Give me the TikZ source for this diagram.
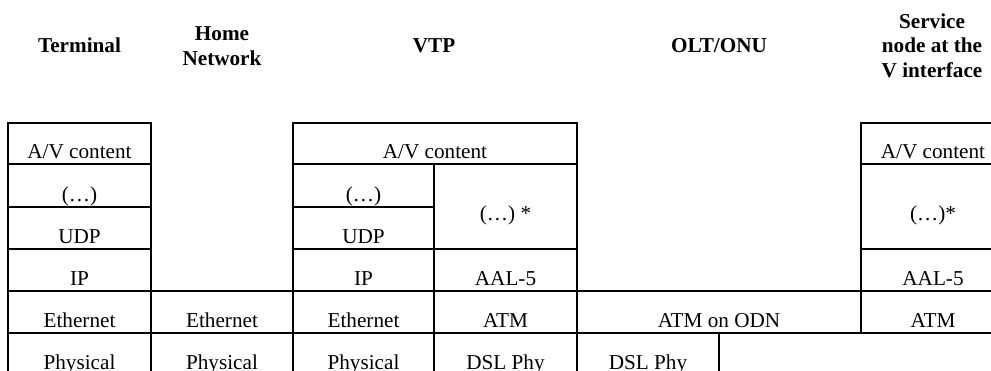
\documentclass[tikz,border=0pt]{standalone}
\usepackage{fontspec}
\setmainfont{Liberation Serif}[BoldFont={Liberation Serif Bold}]
\newcommand\protocell[7]{%
  \pgfmathsetmacro\pcw{#4-#2}%
  \pgfmathsetmacro\pch{#5-#3-#6}%
  \node[cell, minimum width=\pcw pt, text height=\pch pt, text depth=#6pt]
    (#1) at ({(#2+#4)/2},{(#3+#5)/2}) {#7};%
}
\tikzset{
  cell/.style={draw, line width=1pt, inner sep=0pt, outer sep=0pt,
    font=\fontsize{10.6}{12.25}\selectfont},
  hdr/.style={anchor=base, align=center, inner sep=0pt,
    font=\fontsize{10.6}{12.25}\selectfont\bfseries},
}
\begin{document}
\begin{tikzpicture}[x=1pt,y=-1pt]
\useasboundingbox (0,0) rectangle (495.5,185);
% headers (base anchor = baseline of the last line)
\node[hdr] (hterm) at (39.75,26) {Terminal};
\node[hdr] (hhome) at (111,32.5) {Home\\Network};
\node[hdr] (hvtp) at (217,26) {VTP};
\node[hdr] (holt) at (359.5,26) {OLT/ONU};
\node[hdr] (hsn) at (466,38.5) {Service\\node at the\\V interface};
% Terminal
\protocell{tA}{4}{61.5}{75.5}{82}{3}{A/V content}
\protocell{tD}{4}{82}{75.5}{103.5}{3}{(…)}
\protocell{tU}{4}{103.5}{75.5}{124.5}{3}{UDP}
\protocell{tI}{4}{124.5}{75.5}{145.5}{3}{IP}
\protocell{tE}{4}{145.5}{75.5}{166.5}{3}{Ethernet}
\protocell{tP}{4}{166.5}{75.5}{187.5}{3}{Physical}
% Home network
\protocell{hE}{75.5}{145.5}{146.5}{166.5}{3}{Ethernet}
\protocell{hP}{75.5}{166.5}{146.5}{187.5}{3}{Physical}
% VTP
\protocell{vA}{146.5}{61.5}{288.5}{82}{3}{A/V content}
\protocell{vD}{146.5}{82}{217}{103.5}{3}{(…)}
\protocell{vU}{146.5}{103.5}{217}{124.5}{3}{UDP}
\protocell{vI}{146.5}{124.5}{217}{145.5}{3}{IP}
\protocell{vE}{146.5}{145.5}{217}{166.5}{3}{Ethernet}
\protocell{vP}{146.5}{166.5}{217}{187.5}{3}{Physical}
\protocell{vS}{217}{82}{288.5}{124.5}{14.5}{(…) *}
\protocell{vL}{217}{124.5}{288.5}{145.5}{3}{AAL-5}
\protocell{vM}{217}{145.5}{288.5}{166.5}{3}{ATM}
\protocell{vY}{217}{166.5}{288.5}{187.5}{3}{DSL Phy}
% OLT/ONU
\protocell{oM}{288.5}{145.5}{430.5}{166.5}{3}{ATM on ODN}
\protocell{oY}{288.5}{166.5}{359.5}{187.5}{3}{DSL Phy}
% Service node
\protocell{sA}{430.5}{61.5}{502.5}{82}{3}{A/V content}
\protocell{sS}{430.5}{82}{502.5}{124.5}{14.5}{(…)*}
\protocell{sL}{430.5}{124.5}{502.5}{145.5}{3}{AAL-5}
\protocell{sM}{430.5}{145.5}{502.5}{166.5}{3}{ATM}
\end{tikzpicture}
\end{document}
